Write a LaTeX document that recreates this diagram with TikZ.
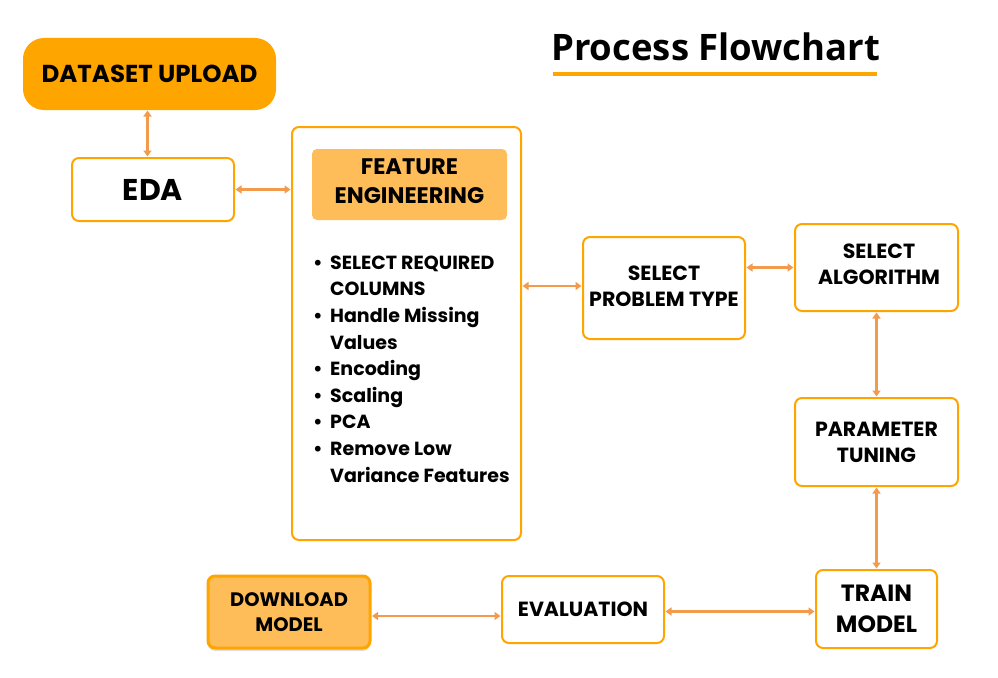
\documentclass[tikz,border=0pt]{standalone}
\usepackage{fontspec}
\setmainfont{Poppins}
\newfontfamily\titlefont{Open Sans}
\usetikzlibrary{arrows.meta,calc}
\definecolor{orng}{HTML}{FFA500}
\definecolor{lorng}{HTML}{FFBD59}
\definecolor{arrc}{HTML}{F39A4C}
\tikzset{
  box/.style={draw=orng, line width=2pt, rounded corners=7pt, fill=white, align=center, inner sep=0pt, font=\bfseries\fontsize{20.5}{26}\selectfont},
  conn/.style={draw=arrc, line width=2.4pt, {Triangle[width=8pt,length=6pt]}-{Triangle[width=8pt,length=6pt]}, shorten <=0.5pt, shorten >=0.5pt},
}
\begin{document}
\begin{tikzpicture}[x=1pt,y=-1pt]
\useasboundingbox (0,0) rectangle (998,677);
% title
\node[font=\titlefont\bfseries\fontsize{36.5}{40}\selectfont, anchor=west, inner sep=0pt] (title) at (551,47) {Process Flowchart};
\coordinate (ul1) at (553,74);
\coordinate (ul2) at (877,74);
\draw[orng, line width=3.5pt] (ul1) -- (ul2);
% dataset upload
\node[box, fill=orng, draw=orng, rounded corners=20pt, minimum width=251pt, minimum height=70pt, font=\bfseries\fontsize{24.5}{28}\selectfont] (du) at (149.5,74) {DATASET UPLOAD};
% EDA
\node[box, minimum width=162pt, minimum height=63pt, font=\bfseries\fontsize{30}{34}\selectfont] (eda) at (153,189.5) {EDA};
% feature engineering
\node[box, minimum width=229pt, minimum height=413pt] (fe) at (406.5,333.5) {};
\node[fill=lorng, rounded corners=5pt, minimum width=195pt, minimum height=71pt, inner sep=0pt] (feh) at (409.5,184.5) {};
\node[inner sep=0pt, align=center, font=\bfseries\fontsize{22.5}{29}\selectfont] (feht) at (409.5,181.5) {FEATURE\\ENGINEERING};
\node[anchor=base west, inner sep=0pt, align=left, font=\bfseries\fontsize{19}{26.6}\selectfont] (fel) at (313,482) {%
\makebox[17pt][l]{•}SELECT REQUIRED\\
\hspace*{17pt}COLUMNS\\
\makebox[17pt][l]{•}Handle Missing\\
\hspace*{17pt}Values\\
\makebox[17pt][l]{•}Encoding\\
\makebox[17pt][l]{•}Scaling\\
\makebox[17pt][l]{•}PCA\\
\makebox[17pt][l]{•}Remove Low\\
\hspace*{17pt}Variance Features};
% select problem type
\node[box, minimum width=162pt, minimum height=102pt] (spt) at (664,288) {};
\node[inner sep=0pt, align=center, font=\bfseries\fontsize{20.5}{26}\selectfont] (sptt) at (664,286) {SELECT\\PROBLEM TYPE};
% select algorithm
\node[box, minimum width=163pt, minimum height=87pt] (sa) at (876.5,267.5) {};
\node[inner sep=0pt, align=center, font=\bfseries\fontsize{20.5}{26}\selectfont] (sat) at (879,264) {SELECT\\ALGORITHM};
% parameter tuning
\node[box, minimum width=163pt, minimum height=88pt] (pt) at (876.5,442) {PARAMETER\\TUNING};
% train model
\node[box, minimum width=121pt, minimum height=78pt, font=\bfseries\fontsize{23.5}{31}\selectfont] (tm) at (876.5,609) {TRAIN\\MODEL};
% evaluation
\node[box, minimum width=162pt, minimum height=67pt] (ev) at (583,609.5) {EVALUATION};
% download model
\node[fill=black!25, rounded corners=7pt, minimum width=162pt, minimum height=72pt, inner sep=0pt, opacity=0.5] (dmsh) at (289,615) {};
\node[box, fill=lorng, line width=3pt, minimum width=162pt, minimum height=72pt, font=\bfseries\fontsize{19.5}{25}\selectfont] (dm) at (289,612) {DOWNLOAD\\MODEL};
% connectors
\draw[conn] ([xshift=-2pt]du.south) -- ([xshift=-2pt]du.south |- eda.north);
\draw[conn] (eda.east) -- (eda.east -| fe.west);
\draw[conn] ([yshift=2pt]spt.west -| fe.east) -- ([yshift=2pt]spt.west);
\draw[conn] (spt.east |- sa.west) -- (sa.west);
\draw[conn] (sa.south) -- (pt.north);
\draw[conn] (pt.south) -- (tm.north);
\draw[conn] ([yshift=-2pt]ev.east) -- ([yshift=-2pt]ev.east -| tm.west);
\draw[conn] ([yshift=-4pt]dm.east) -- ([yshift=-4pt]dm.east -| ev.west);
\end{tikzpicture}
\end{document}
